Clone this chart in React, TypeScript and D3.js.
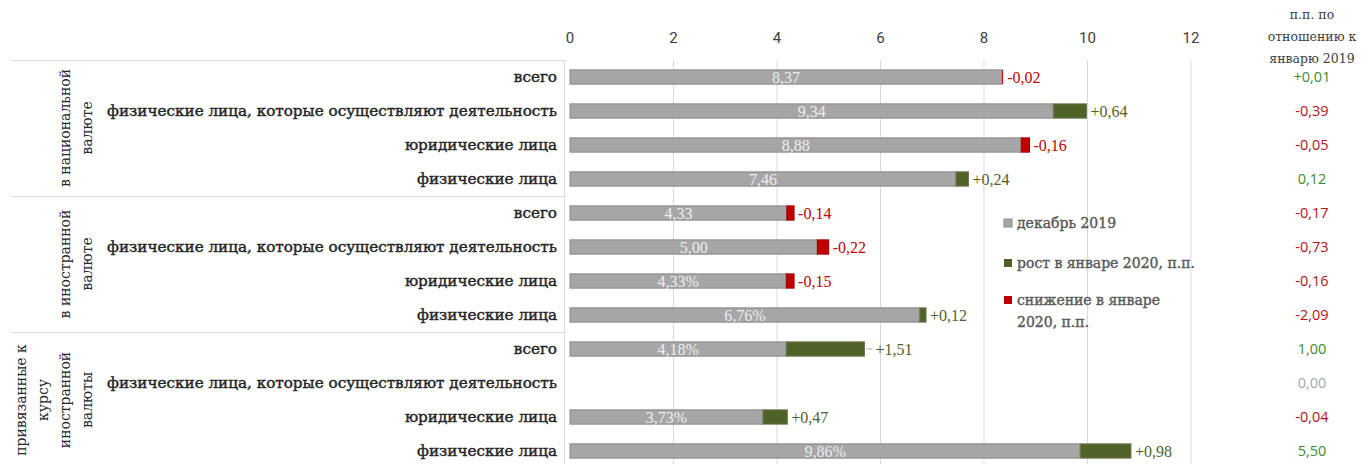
import React from 'react';
import * as d3 from 'd3';

// rows: 3 groups x 4 borrower types
const categories = [
  'всего',
  'физические лица, которые осуществляют деятельность',
  'юридические лица',
  'физические лица',
];
const groupLabels = [
  ['в национальной', 'валюте'],
  ['в иностранной', 'валюте'],
  ['привязанные к', 'курсу', 'иностранной', 'валюты'],
];
const dec2019 = [8.37, 9.34, 8.88, 7.46, 4.33, 5.0, 4.33, 6.76, 4.18, null, 3.73, 9.86];
const dec2019Labels = ['8,37', '9,34', '8,88', '7,46', '4,33', '5,00', '4,33%', '6,76%', '4,18%', '', '3,73%', '9,86%'];
const janChange = [-0.02, 0.64, -0.16, 0.24, -0.14, -0.22, -0.15, 0.12, 1.51, null, 0.47, 0.98];
const yoyChange = [0.01, -0.39, -0.05, 0.12, -0.17, -0.73, -0.16, -2.09, 1.0, 0.0, -0.04, 5.5];
const yoyLabels = ['+0,01', '-0,39', '-0,05', '0,12', '-0,17', '-0,73', '-0,16', '-2,09', '1,00', '0,00', '-0,04', '5,50'];
const xTicks = [0, 2, 4, 6, 8, 10, 12];
const legendItems = [
  { key: 'dec', lines: ['декабрь 2019'] },
  { key: 'up', lines: ['рост в январе 2020, п.п.'] },
  { key: 'down', lines: ['снижение в январе', '2020, п.п.'] },
];
const headerLines = ['п.п. по', 'отношению к', 'январю 2019'];

const colors = { dec: '#a6a6a6', up: '#4f6228', down: '#c00000' };

const W = 1368;
const H = 464;

const ruLocale = d3.formatLocale({ decimal: ',', thousands: ' ', grouping: [3], currency: ['', ''], minus: '-' });
const fmtChange = ruLocale.format('+.2f');

export default function App() {
  const rows = d3.range(dec2019.length);
  const x = d3.scaleLinear().domain([0, 12]).range([570, 1191]);
  const y = d3
    .scaleBand<number>()
    .domain(rows)
    .range([60, 468])
    .paddingInner(0.58)
    .paddingOuter(0.29);
  const bh = y.bandwidth();
  const step = y.step();

  const serif = '"DejaVu Serif", serif';
  const times = '"Liberation Serif", serif';

  return (
    <svg width={W} height={H} style={{ position: 'absolute', left: 0, top: 0, background: '#fff' }}>
      {/* gridlines */}
      {xTicks.slice(1).map((t) => (
        <line key={t} x1={x(t)} x2={x(t)} y1={60} y2={H} stroke="#d9d9d9" strokeWidth={1} />
      ))}
      <line x1={564.5} x2={564.5} y1={60} y2={H} stroke="#d9d9d9" />
      {xTicks.map((t) => (
        <text
          key={t}
          x={x(t)}
          y={43}
          textAnchor="middle"
          fontFamily="Roboto, sans-serif"
          fontSize={15}
          fill="#404040"
        >
          {t}
        </text>
      ))}

      {/* group separators and labels */}
      {groupLabels.map((lines, gi) => {
        const top = (y(gi * 4) as number) - (step - bh) / 2;
        const cy = top + step * 2;
        const n = lines.length;
        return (
          <g key={gi}>
            <line x1={12} x2={564} y1={top + 0.5} y2={top + 0.5} stroke="#d9d9d9" />
            {lines.map((l, li) => {
              const lx = 88 - (n - 1 - li) * 22 + 4;
              return (
                <text
                  key={li}
                  transform={`translate(${lx},${cy}) rotate(-90)`}
                  textAnchor="middle"
                  fontFamily={serif}
                  fontSize={14}
                  fill="#262626"
                >
                  {l}
                </text>
              );
            })}
          </g>
        );
      })}

      {/* category labels */}
      {rows.map((i) => (
        <text
          key={i}
          x={557}
          y={(y(i) as number) + bh / 2}
          dy="0.35em"
          textAnchor="end"
          fontFamily={serif}
          fontSize={15.2}
          fill="#262626"
          stroke="#262626"
          strokeWidth={0.45}
        >
          {categories[i % 4]}
        </text>
      ))}

      {/* bars */}
      {rows.map((i) => {
        const v = dec2019[i];
        const c = janChange[i];
        if (v == null || c == null) return null;
        const yy = y(i) as number;
        const grayEnd = c < 0 ? v + c : v;
        const segStart = c < 0 ? v + c : v;
        const segEnd = c < 0 ? v : v + c;
        const end = Math.max(v, v + c);
        return (
          <g key={i}>
            <rect x={x(0)} y={yy} width={x(grayEnd) - x(0)} height={bh} fill={colors.dec} stroke="#8a8a8a" strokeWidth={1} />
            <rect
              x={x(segStart)}
              y={yy}
              width={Math.max(1, x(segEnd) - x(segStart))}
              height={bh}
              fill={c < 0 ? colors.down : colors.up}
              stroke={c < 0 ? '#a00000' : '#6b7a50'}
              strokeWidth={c < 0 && x(segEnd) - x(segStart) < 2 ? 0 : 1}
            />
            <text
              x={(x(0) + x(grayEnd)) / 2}
              y={yy + bh / 2}
              dy="0.35em"
              textAnchor="middle"
              fontFamily={times}
              fontSize={16}
              fill="#eeeeee"
            >
              {dec2019Labels[i]}
            </text>
            {c > 1 && (
              <line x1={x(end) + 2} x2={x(end) + 8} y1={yy + bh / 2} y2={yy + bh / 2} stroke="#a6a6a6" />
            )}
            <text
              x={x(end) + (c > 1 ? 11 : 4)}
              y={yy + bh / 2}
              dy="0.35em"
              fontFamily={times}
              fontSize={16}
              fill={c < 0 ? colors.down : colors.up}
            >
              {fmtChange(c)}
            </text>
          </g>
        );
      })}

      {/* legend */}
      {legendItems.map((it, li) => {
        const ly = [223, 263, 300][li];
        return (
          <g key={it.key}>
            <rect x={1004} y={ly - 4} width={8} height={8} fill={colors[it.key as keyof typeof colors]} stroke={it.key === 'dec' ? '#8a8a8a' : 'none'} />
            {it.lines.map((l, k) => (
              <text
                key={k}
                x={1017}
                y={ly + k * 22}
                dy="0.35em"
                fontFamily={serif}
                fontSize={14}
                fill="#595959"
                stroke="#595959"
                strokeWidth={0.4}
              >
                {l}
              </text>
            ))}
          </g>
        );
      })}

      {/* right column: change vs January 2019 */}
      {headerLines.map((l, k) => (
        <text
          key={k}
          x={1312}
          y={15 + k * 22}
          dy="0.35em"
          textAnchor="middle"
          fontFamily={serif}
          fontSize={12.5}
          fill="#404040"
        >
          {l}
        </text>
      ))}
      {rows.map((i) => (
        <text
          key={i}
          x={1312}
          y={(y(i) as number) + bh / 2}
          dy="0.35em"
          textAnchor="middle"
          fontFamily='"Open Sans", sans-serif'
          fontSize={14.5}
          fontWeight={500}
          fill={yoyChange[i] > 0 ? '#3a8a35' : yoyChange[i] < 0 ? '#b5121b' : '#a6a6a6'}
        >
          {yoyLabels[i]}
        </text>
      ))}
    </svg>
  );
}
